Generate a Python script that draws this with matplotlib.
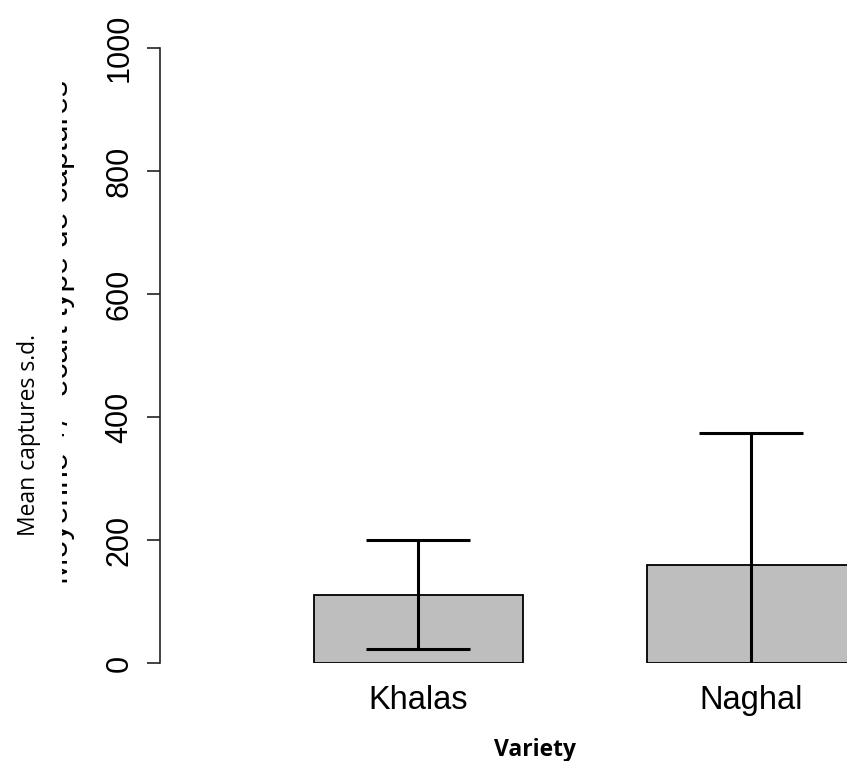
import matplotlib
matplotlib.use("Agg")
import matplotlib.pyplot as plt
import numpy as np
from matplotlib.transforms import Bbox

# mean captures per variety, with standard deviation
varieties = ["Khalas", "Naghal"]
mean_captures = [111, 159]
sd_captures = [89, 215]
y_ticks = [0, 200, 400, 600, 800, 1000]

W, H = 847, 761
fig = plt.figure(figsize=(W / 100, H / 100), dpi=100)
# axes box in pixel terms: y axis line at x=160, y=0 at 663, y=1000 at 48
ax = fig.add_axes([160 / W, 1 - 663 / H, (W - 160) / W, (663 - 48) / H])

x = np.arange(len(varieties))
ax.bar(x, mean_captures, width=0.628, color="#bebebe", edgecolor="black",
       linewidth=1.3, zorder=2)
ax.errorbar(x, mean_captures, yerr=sd_captures, fmt="none", ecolor="black",
            elinewidth=2.2, capsize=37.8, capthick=2.2, zorder=3)

ax.set_xlim(-0.775, 1.288)
ax.set_ylim(0, 1000)
for side in ("top", "right", "bottom"):
    ax.spines[side].set_visible(False)
ax.spines["left"].set_color("#222222")
ax.spines["left"].set_linewidth(1.2)

ax.set_yticks(y_ticks)
ax.set_yticklabels([str(v) for v in y_ticks], rotation=90, va="center",
                   fontsize=22, family="Liberation Sans")
ax.tick_params(axis="y", length=9.4, width=1.2, color="#222222", pad=9)
ax.set_xticks(x)
ax.set_xticklabels(varieties, fontsize=23.5, family="Liberation Sans")
ax.tick_params(axis="x", length=0, pad=16)

# old French y label, only its right-hand strip shows
old_lab = fig.text(68 / W, 1 - 332 / H, "Moyenne +/- ecart type de captures",
                   rotation=90, rotation_mode="anchor", ha="center",
                   va="baseline", fontsize=23, family="Liberation Sans")
old_lab.set_clip_box(Bbox([[62, 0], [W, H]]))
old_lab.set_clip_on(True)

fig.text(35 / W, 1 - 435 / H, "Mean captures s.d.", rotation=90,
         rotation_mode="anchor", ha="center", va="baseline",
         fontsize=16.5, family="Open Sans")
fig.text(535 / W, 1 - 756 / H, "Variety", ha="center", va="baseline",
         fontsize=16.5, fontweight="bold", family="Open Sans")

fig.savefig("out.png", dpi=100)
